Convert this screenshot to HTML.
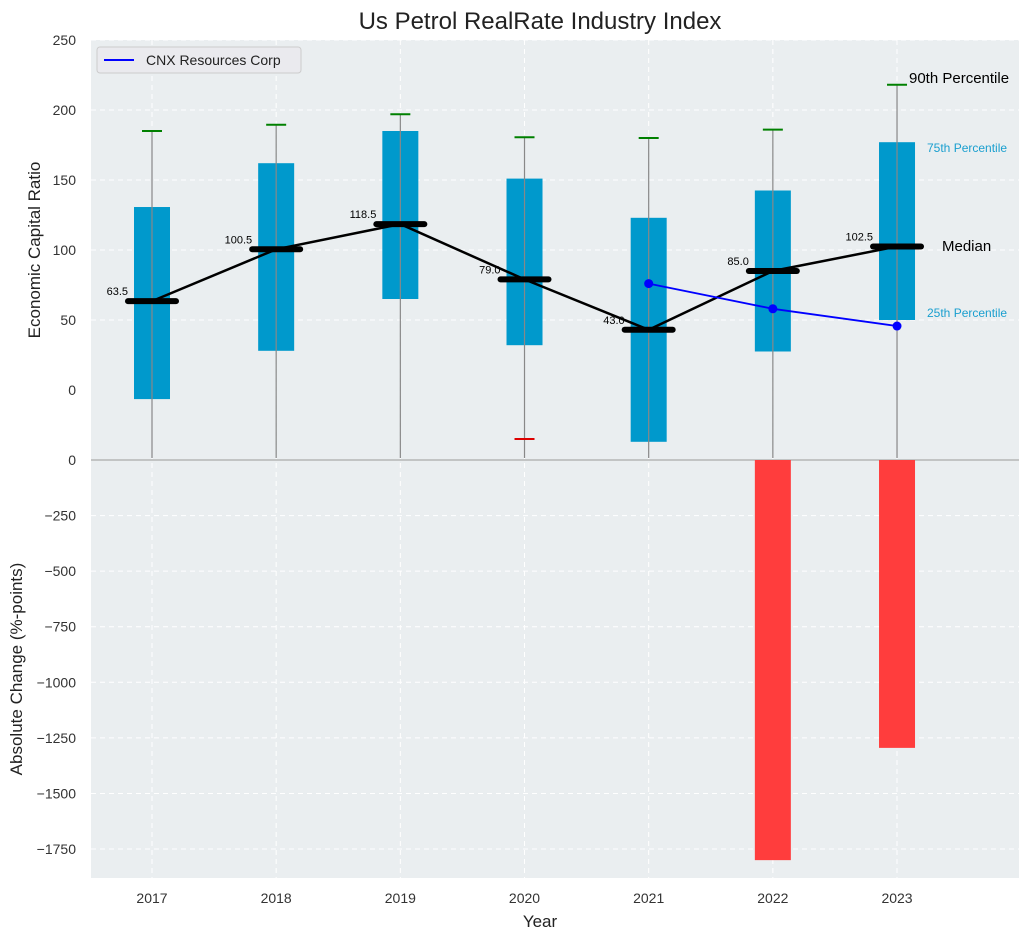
<!DOCTYPE html>
<html><head><meta charset="utf-8"><style>
body{margin:0;background:#fff;font-family:"Liberation Sans",Arial,sans-serif}
svg{display:block}
</style></head><body>
<svg id="chart" width="1030" height="940">
<rect width="1030" height="940" fill="#fff"/>
<text x="540" y="29" text-anchor="middle" font-size="24" fill="#222">Us Petrol RealRate Industry Index</text>
<rect x="91" y="40" width="928" height="420" fill="#eaeef0"/>
<rect x="91" y="460" width="928" height="418" fill="#eaeef0"/>
<g id="grid"></g><g id="marks"></g>
<text x="540" y="927" text-anchor="middle" font-size="17" fill="#222">Year</text>
<text transform="translate(40,250) rotate(-90)" text-anchor="middle" font-size="17" fill="#222">Economic Capital Ratio</text>
<text transform="translate(22,669) rotate(-90)" text-anchor="middle" font-size="17" fill="#222">Absolute Change (%-points)</text>
<g>
<rect x="97" y="47" width="204" height="26" rx="3" fill="#eaeaee" stroke="#ccc"/>
<line x1="104" y1="60" x2="134" y2="60" stroke="#0000ff" stroke-width="2"/>
<text x="146" y="65" font-size="14" fill="#222">CNX Resources Corp</text>
</g>
<text x="909" y="83" font-size="15" fill="#000">90th Percentile</text>
<text x="927" y="152" font-size="12" fill="#1a9fcf">75th Percentile</text>
<text x="942" y="251" font-size="15" fill="#000">Median</text>
<text x="927" y="317" font-size="12" fill="#1a9fcf">25th Percentile</text>
</svg>
<script>
const years=[2017,2018,2019,2020,2021,2022,2023];
const q75=[130.7,162,185,151,123,142.5,177];
const q25=[-6.5,28,65,32,-37,27.5,50];
const medians=[63.5,100.5,118.5,79.0,43.0,85.0,102.5];
const p90=[185,189.5,197,180.5,180,186,218];
const p10=[null,null,null,-35,null,null,null];
const cnxYears=[2021,2022,2023];
const cnxValues=[76,58,45.7];
const changes=[0,0,0,0,0,-1800,-1295];
const topTicks=[0,50,100,150,200,250];
const botTicks=[0,-250,-500,-750,-1000,-1250,-1500,-1750];

const NS="http://www.w3.org/2000/svg";
const X=y=>152+(y-2017)*124.17;
const YT=v=>390-v*1.4;
const YB=v=>460-v*0.2223;
const g=document.getElementById('grid'),m=document.getElementById('marks');
function el(p,t,a){const e=document.createElementNS(NS,t);for(const k in a)e.setAttribute(k,a[k]);p.appendChild(e);return e;}
topTicks.forEach(t=>{
 if(t!==0){const l=el(g,'line',{x1:91,x2:1019,y1:YT(t),y2:YT(t),stroke:'#fff','stroke-dasharray':'5,4'});
 }
 const tx=el(g,'text',{x:76,y:YT(t)+5,'text-anchor':'end','font-size':14,fill:'#333'});tx.textContent=t;
 
});
botTicks.forEach(t=>{
 const l=el(g,'line',{x1:91,x2:1019,y1:YB(t),y2:YB(t),stroke:'#fff','stroke-dasharray':'5,4'});
 
 const tx=el(g,'text',{x:76,y:YB(t)+5,'text-anchor':'end','font-size':14,fill:'#333'});tx.textContent=t===0?'0':'\u2212'+Math.abs(t);
 
});
years.forEach(y=>{
 const l=el(g,'line',{x1:X(y),x2:X(y),y1:40,y2:878,stroke:'#fff','stroke-dasharray':'5,4'});
 
 const tx=el(g,'text',{x:X(y),y:903,'text-anchor':'middle','font-size':14,fill:'#333'});tx.textContent=y;
 
});
el(g,'line',{x1:91,x2:1019,y1:460,y2:460,stroke:'#aaa','stroke-width':1.2});
years.forEach((y,i)=>{
 const x=X(y);
 const b=el(m,'rect',{x:x-18,y:YT(q75[i]),width:36,height:YT(q25[i])-YT(q75[i]),fill:'#0099cc'});
 
 const w=el(m,'line',{x1:x,x2:x,y1:458,y2:YT(p90[i]),stroke:'#888','stroke-width':1.2});
 
 const c=el(m,'line',{x1:x-10,x2:x+10,y1:YT(p90[i]),y2:YT(p90[i]),stroke:'#008000','stroke-width':2});
 
 if(p10[i]!==null){const c2=el(m,'line',{x1:x-10,x2:x+10,y1:YT(p10[i]),y2:YT(p10[i]),stroke:'#dd0000','stroke-width':2});
 }
 if(changes[i]!==0){const r=el(m,'rect',{x:x-18,y:460,width:36,height:YB(changes[i])-460,fill:'#ff3d3d'});
 }
});
const mp=el(m,'polyline',{points:years.map((y,i)=>X(y)+','+YT(medians[i])).join(' '),fill:'none',stroke:'#000','stroke-width':2.5});

years.forEach((y,i)=>{
 const x=X(y);
 const s=el(m,'line',{x1:x-24,x2:x+24,y1:YT(medians[i]),y2:YT(medians[i]),stroke:'#000','stroke-width':6,'stroke-linecap':'round'});
 
 const t=el(m,'text',{x:x-24,y:YT(medians[i])-6,'text-anchor':'end','font-size':11,fill:'#000'});t.textContent=medians[i].toFixed(1);
 
});
const cp=el(m,'polyline',{points:cnxYears.map((y,i)=>X(y)+','+YT(cnxValues[i])).join(' '),fill:'none',stroke:'#0000ff','stroke-width':1.8});

cnxYears.forEach((y,i)=>{const d=el(m,'circle',{cx:X(y),cy:YT(cnxValues[i]),r:4.5,fill:'#0000ff'});
 });
</script>
</body></html>
